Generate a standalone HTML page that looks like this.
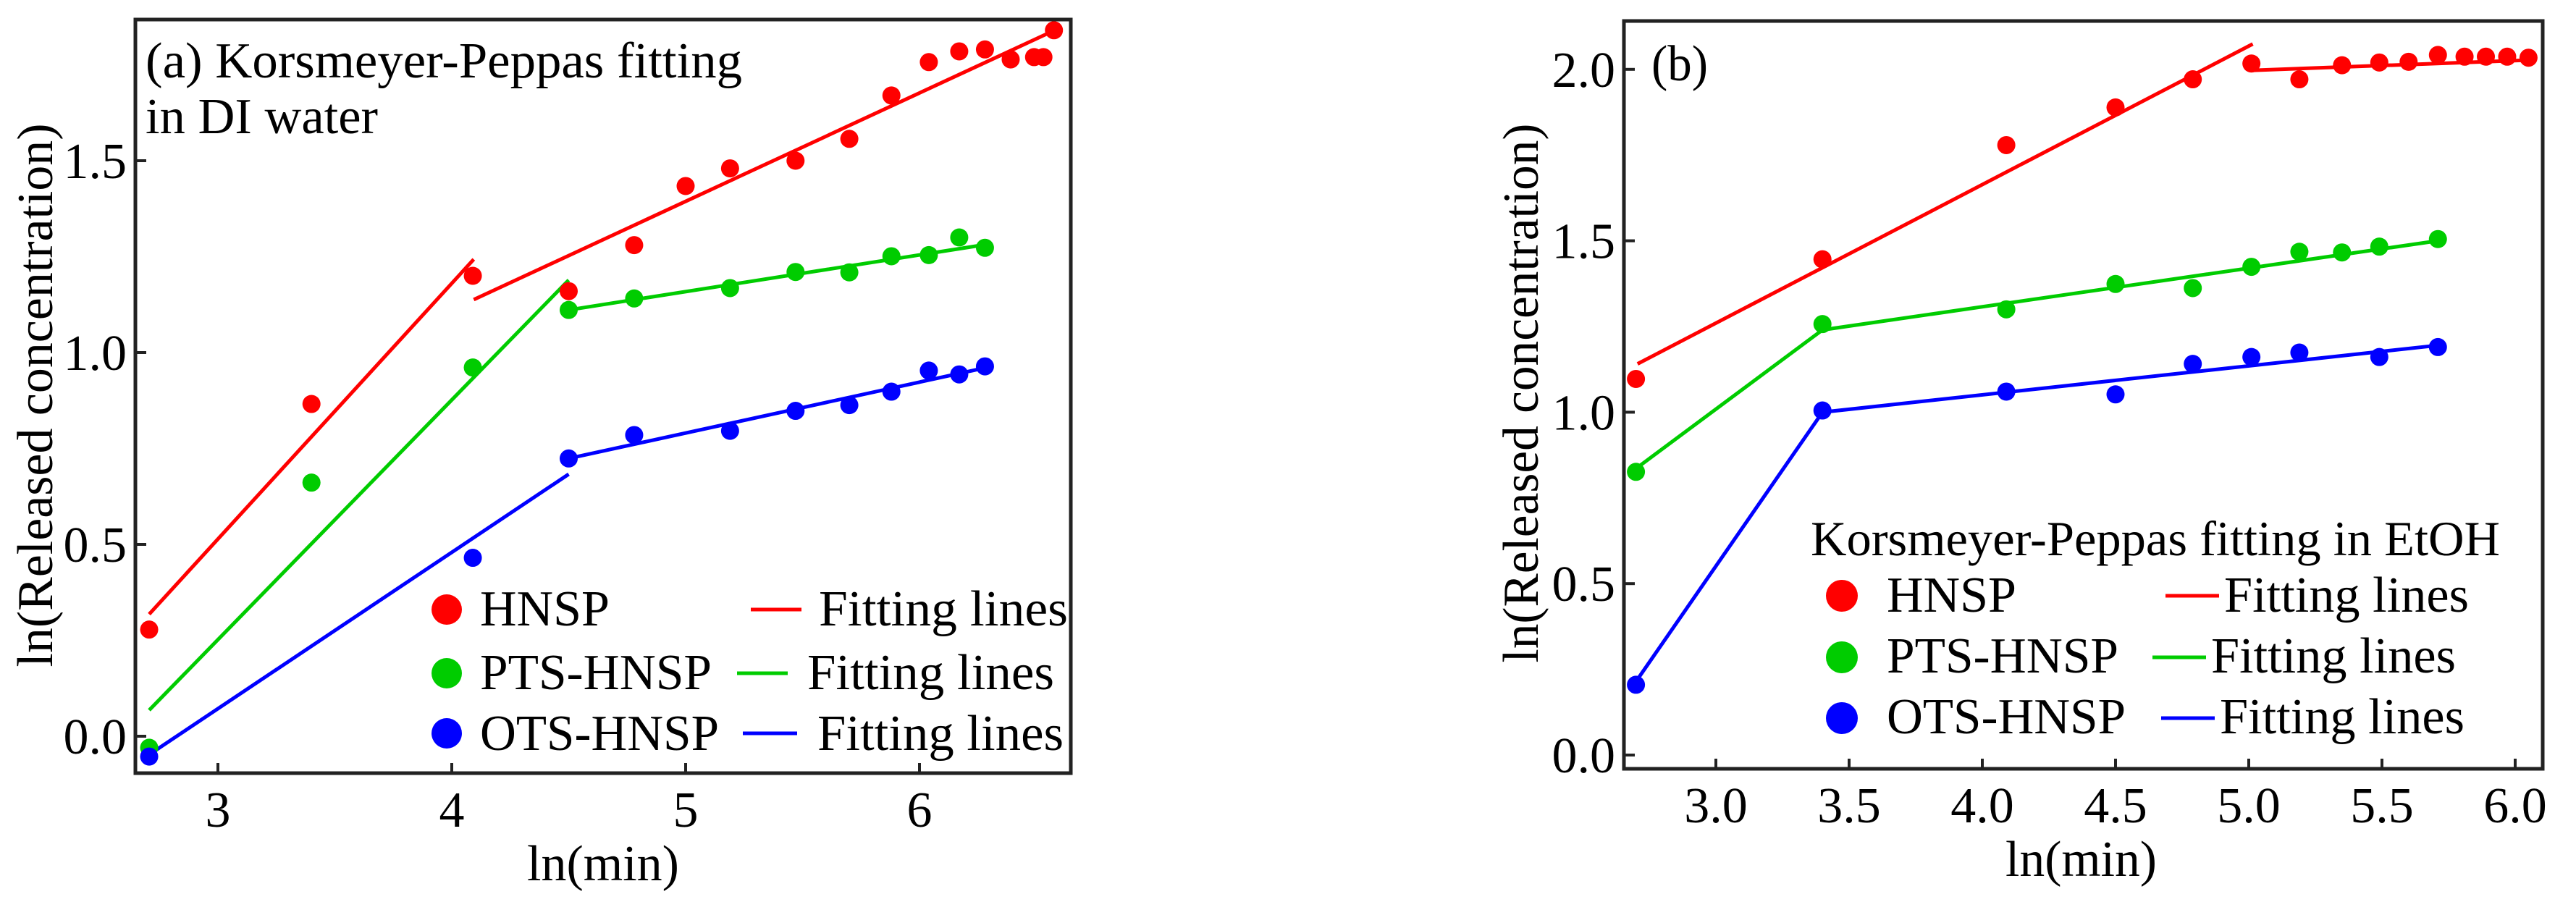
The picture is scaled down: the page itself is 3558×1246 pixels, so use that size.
<!DOCTYPE html>
<html><head><meta charset="utf-8"><style>
html,body{margin:0;padding:0;background:#fff;}
svg{display:block;}
text{font-family:"Liberation Serif",serif;fill:#000;}
</style></head><body>
<svg id="c" width="3558" height="1246" viewBox="0 0 3558 1246" xmlns="http://www.w3.org/2000/svg" font-family="Liberation Serif, serif"></svg>
<script>
// ---- Panel (a) data: DI water ----
const aHnspX = [2.706,3.40,4.09,4.50,4.78,5.00,5.19,5.47,5.70,5.88,6.04,6.17,6.28,6.39,6.49,6.53,6.575];
const aHnspY = [0.278,0.866,1.20,1.16,1.28,1.434,1.48,1.50,1.557,1.67,1.757,1.785,1.79,1.764,1.77,1.77,1.84];
const aPtsX = [2.706,3.40,4.09,4.50,4.78,5.19,5.47,5.70,5.88,6.04,6.17,6.28];
const aPtsY = [-0.03,0.661,0.961,1.111,1.141,1.168,1.21,1.209,1.251,1.254,1.30,1.273];
const aOtsX = [2.706,4.09,4.50,4.78,5.19,5.47,5.70,5.88,6.04,6.17,6.28];
const aOtsY = [-0.053,0.465,0.724,0.785,0.796,0.848,0.863,0.898,0.953,0.943,0.964];
const aHnspFitX = [[2.706,4.094],[4.094,6.55]];
const aHnspFitY = [[0.318,1.243],[1.138,1.832]];
const aPtsFitX = [[2.706,4.50],[4.50,6.31]];
const aPtsFitY = [[0.068,1.189],[1.111,1.284]];
const aOtsFitX = [[2.706,4.50],[4.50,6.31]];
const aOtsFitY = [[-0.048,0.683],[0.724,0.964]];
const aXTicks = [3,4,5,6];
const aXTickLabels = ["3","4","5","6"];
const aYTicks = [0,0.5,1.0,1.5];
const aYTickLabels = ["0.0","0.5","1.0","1.5"];
// ---- Panel (b) data: EtOH ----
const bHnspX = [2.70,3.40,4.09,4.50,4.79,5.01,5.19,5.35,5.49,5.60,5.71,5.81,5.89,5.97,6.05];
const bHnspY = [1.097,1.446,1.779,1.889,1.971,2.017,1.971,2.012,2.020,2.022,2.042,2.037,2.037,2.037,2.034];
const bPtsX = [2.70,3.40,4.09,4.50,4.79,5.01,5.19,5.35,5.49,5.71];
const bPtsY = [0.826,1.257,1.30,1.374,1.362,1.424,1.468,1.466,1.483,1.505];
const bOtsX = [2.70,3.40,4.09,4.50,4.79,5.01,5.19,5.49,5.71];
const bOtsY = [0.205,1.005,1.060,1.052,1.141,1.161,1.174,1.161,1.190];
const bHnspFitX = [[2.706,5.015],[5.01,6.05]];
const bHnspFitY = [[1.141,2.074],[1.997,2.027]];
const bPtsFitX = [[2.706,3.40],[3.40,5.71]];
const bPtsFitY = [[0.839,1.240],[1.240,1.50]];
const bOtsFitX = [[2.706,3.40],[3.40,5.71]];
const bOtsFitY = [[0.221,1.0],[1.0,1.195]];
const bXTicks = [3.0,3.5,4.0,4.5,5.0,5.5,6.0];
const bXTickLabels = ["3.0","3.5","4.0","4.5","5.0","5.5","6.0"];
const bYTicks = [0,0.5,1.0,1.5,2.0];
const bYTickLabels = ["0.0","0.5","1.0","1.5","2.0"];

const NS="http://www.w3.org/2000/svg";
const svg=document.getElementById('c');
function mk(tag,attrs,parent){const e=document.createElementNS(NS,tag);for(const k in attrs)e.setAttribute(k,attrs[k]);(parent||svg).appendChild(e);return e;}
const RED="#ff0000",GREEN="#00cc00",BLUE="#0000ff";
const FF="Liberation Serif, serif";

function panel(cfg){
  const g=mk('g',{});
  
  
  const sx=v=>cfg.x0px+(v-cfg.x0)*cfg.xs;
  const sy=v=>cfg.y0px-(v)*cfg.ys;
  cfg.xt.forEach((t,i)=>{
    const tk=mk('line',{x1:sx(t),x2:sx(t),y1:cfg.B,y2:cfg.B-14,stroke:'#222','stroke-width':4},g);
    
    
    const tl=mk('text',{x:sx(t),y:cfg.B+74,'font-size':70,'font-family':FF,'text-anchor':'middle'},g);
    tl.textContent=cfg.xl[i];
    
    
  });
  cfg.yt.forEach((t,i)=>{
    const tk=mk('line',{x1:cfg.L,x2:cfg.L+15,y1:sy(t),y2:sy(t),stroke:'#222','stroke-width':4},g);
    
    
    const tl=mk('text',{x:cfg.L-12,y:sy(t)+24,'font-size':70,'font-family':FF,'text-anchor':'end'},g);
    tl.textContent=cfg.yl[i];
    
    
  });
  cfg.series.forEach(s=>{
    s.fx.forEach((seg,j)=>{
      const ln=mk('line',{x1:sx(seg[0]),y1:sy(s.fy[j][0]),x2:sx(seg[1]),y2:sy(s.fy[j][1]),stroke:s.c,'stroke-width':5},g);
      
      
    });
  });
  cfg.series.forEach(s=>{
    s.x.forEach((v,j)=>{
      const c=mk('circle',{cx:sx(v),cy:sy(s.y[j]),r:12.5,fill:s.c},g);
      
      
    });
  });
  const fr=mk('rect',{x:cfg.L,y:cfg.T,width:cfg.R-cfg.L,height:cfg.B-cfg.T,fill:'none',stroke:'#222','stroke-width':5},g);
  
  
}

panel({name:'panel-a',L:187,R:1479,T:27,B:1068,x0:3,x0px:301,xs:323,y0px:1017,ys:530,
  xt:aXTicks,xl:aXTickLabels,yt:aYTicks,yl:aYTickLabels,
  series:[{id:'hnsp',c:RED,x:aHnspX,y:aHnspY,fx:aHnspFitX,fy:aHnspFitY},
          {id:'pts-hnsp',c:GREEN,x:aPtsX,y:aPtsY,fx:aPtsFitX,fy:aPtsFitY},
          {id:'ots-hnsp',c:BLUE,x:aOtsX,y:aOtsY,fx:aOtsFitX,fy:aOtsFitY}]});
panel({name:'panel-b',L:2243,R:3512,T:29,B:1062,x0:3,x0px:2370,xs:368,y0px:1043,ys:473.6,
  xt:bXTicks,xl:bXTickLabels,yt:bYTicks,yl:bYTickLabels,
  series:[{id:'hnsp',c:RED,x:bHnspX,y:bHnspY,fx:bHnspFitX,fy:bHnspFitY},
          {id:'pts-hnsp',c:GREEN,x:bPtsX,y:bPtsY,fx:bPtsFitX,fy:bPtsFitY},
          {id:'ots-hnsp',c:BLUE,x:bOtsX,y:bOtsY,fx:bOtsFitX,fy:bOtsFitY}]});
</script>
<script>
(function(){
const NS="http://www.w3.org/2000/svg";const svg=document.getElementById('c');
function t(str,x,y,fs,len,name,extra){const e=document.createElementNS(NS,'text');e.setAttribute('x',x);e.setAttribute('y',y);e.setAttribute('font-size',fs);e.setAttribute('font-family','Liberation Serif, serif');
 if(len){e.setAttribute('textLength',len);e.setAttribute('lengthAdjust','spacingAndGlyphs');}
 if(extra)for(const k in extra)e.setAttribute(k,extra[k]);
 e.textContent=str;svg.appendChild(e);return e;}
function c(x,y,r,f,name){const e=document.createElementNS(NS,'circle');e.setAttribute('cx',x);e.setAttribute('cy',y);e.setAttribute('r',r);e.setAttribute('fill',f);svg.appendChild(e);}
function l(x1,x2,y,col,name){const e=document.createElementNS(NS,'line');e.setAttribute('x1',x1);e.setAttribute('x2',x2);e.setAttribute('y1',y);e.setAttribute('y2',y);e.setAttribute('stroke',col);e.setAttribute('stroke-width',5);svg.appendChild(e);}
t("(a) Korsmeyer-Peppas fitting",201,107,70,824,'panel-a-title');
t("in DI water",201,184,70,321,'panel-a-title-line2');
t("ln(Released concentration)",0,0,70,751,'y-axis-title-a',{transform:'translate(72,546) rotate(-90)','text-anchor':'middle'});
t("ln(min)",728,1216,70,210,'x-axis-title-a');
const R="#ff0000",G="#00cc00",B="#0000ff";
c(617,842,21,R,'legend-hnsp-marker');c(617,930,21,G,'legend-pts-marker');c(617,1013,21,B,'legend-ots-marker');
t("HNSP",663,864,70,179,'legend-hnsp-label');t("PTS-HNSP",663,952,70,320,'legend-pts-label');t("OTS-HNSP",663,1036,70,330,'legend-ots-label');
l(1037,1107,842,R,'legend-hnsp-fit-line');l(1018,1088,930,G,'legend-pts-fit-line');l(1026,1101,1013,B,'legend-ots-fit-line');
t("Fitting lines",1131,864,70,344,'legend-hnsp-fit-label');t("Fitting lines",1115,952,70,341,'legend-pts-fit-label');t("Fitting lines",1129,1036,70,340,'legend-ots-fit-label');
t("(b)",2281,111,70,78,'panel-b-label');
t("ln(Released concentration)",0,0,70,745,'y-axis-title-b',{transform:'translate(2124,543) rotate(-90)','text-anchor':'middle'});
t("ln(min)",2770,1210,70,209,'x-axis-title-b');
t("Korsmeyer-Peppas fitting in EtOH",2501,767,68,952,'legend-title-b');
c(2544,823,22,R,'legend-b-hnsp-marker');c(2544,908,22,G,'legend-b-pts-marker');c(2544,992,22,B,'legend-b-ots-marker');
t("HNSP",2606,845,70,179,'legend-b-hnsp-label');t("PTS-HNSP",2606,929,70,320,'legend-b-pts-label');t("OTS-HNSP",2606,1013,70,330,'legend-b-ots-label');
l(2991,3065,823,R,'legend-b-hnsp-fit-line');l(2973,3047,908,G,'legend-b-pts-fit-line');l(2985,3059,992,B,'legend-b-ots-fit-line');
t("Fitting lines",3072,845,70,338,'legend-b-hnsp-fit-label');t("Fitting lines",3054,929,70,338,'legend-b-pts-fit-label');t("Fitting lines",3066,1013,70,338,'legend-b-ots-fit-label');
})();
</script>
</body></html>
